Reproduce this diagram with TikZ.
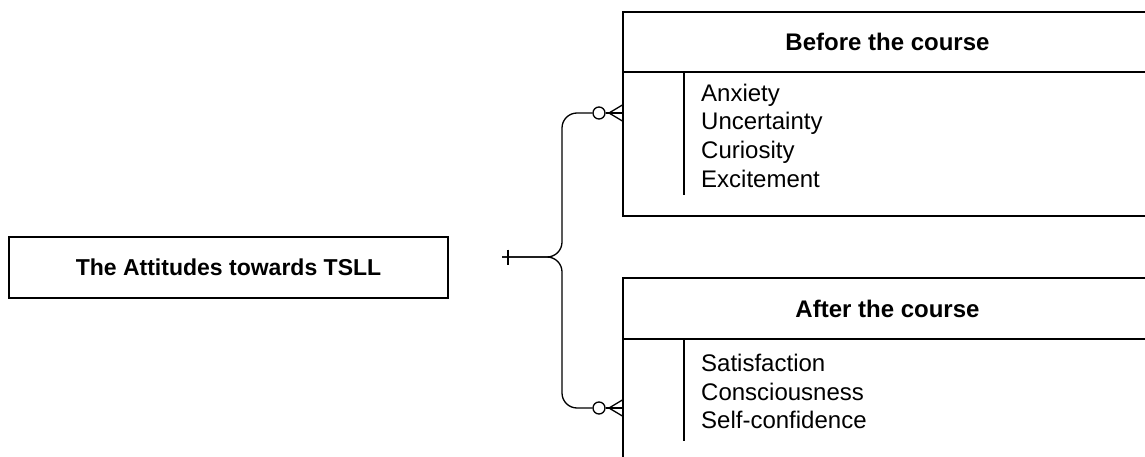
\documentclass[tikz,border=0pt]{standalone}
\usepackage{fontspec}
\setmainfont{Liberation Sans}
\begin{document}
\begin{tikzpicture}[x=1pt,y=-1pt,
  ln/.style={line width=1.3pt,draw=black},
  ebox/.style={ln,rectangle,inner sep=0pt,fill=white},
  hdr/.style={font=\fontsize{24}{28}\selectfont\bfseries},
  item/.style={anchor=base west,inner sep=0pt,font=\fontsize{24}{28}\selectfont},
  crow/.style={ln,line cap=round},
  ozero/.style={ln,circle,fill=white,minimum size=12pt,inner sep=0pt}]
\clip (0,0) rectangle (1145,457);
% left entity
\node[ebox,minimum width=439pt,minimum height=61pt,font=\fontsize{23}{28}\selectfont\bfseries] (att) at (228.5,267.5) {The Attitudes towards TSLL};
% before
\node[ebox,minimum width=529pt,minimum height=144pt] (bb) at (887.5,144) {};
\node[ebox,hdr,minimum width=529pt,minimum height=60pt] (bh) at (887.5,42) {Before the course};
\draw[ln] (684,72) -- (684,195);
\node[item] (b1) at (701,101.5) {Anxiety};
\node[item] (b2) at (701,130) {Uncertainty};
\node[item] (b3) at (701,158.5) {Curiosity};
\node[item] (b4) at (701,187) {Excitement};
% after
\node[ebox,minimum width=529pt,minimum height=160pt] (ab) at (887.5,419) {};
\node[ebox,hdr,minimum width=529pt,minimum height=61pt] (ah) at (887.5,308.5) {After the course};
\draw[ln] (684,339) -- (684,441);
\node[item] (a1) at (701,371.5) {Satisfaction};
\node[item] (a2) at (701,400) {Consciousness};
\node[item] (a3) at (701,428.5) {Self-confidence};
% connectors
\coordinate (s) at (502,257);
\coordinate (j) at (562,257);
\node[ozero] (o1) at (599,113) {};
\node[ozero] (o2) at (599,408) {};
\draw[ln,rounded corners=15pt] (s) -- (j) -- (j |- o1) -- (o1.west);
\draw[ln,rounded corners=15pt] (s) -- (j) -- (j |- o2) -- (o2.west);
\draw[ln] (508,249.5) -- (508,264.5);
\coordinate (p1) at (609,113);
\coordinate (p2) at (609,408);
\draw[ln] (o1.east) -- (bb.west |- o1);
\draw[crow] ([yshift=-8pt]bb.west |- o1) -- (p1) -- ([yshift=8pt]bb.west |- o1);
\draw[ln] (o2.east) -- (ab.west |- o2);
\draw[crow] ([yshift=-8pt]ab.west |- o2) -- (p2) -- ([yshift=8pt]ab.west |- o2);
\end{tikzpicture}
\end{document}
